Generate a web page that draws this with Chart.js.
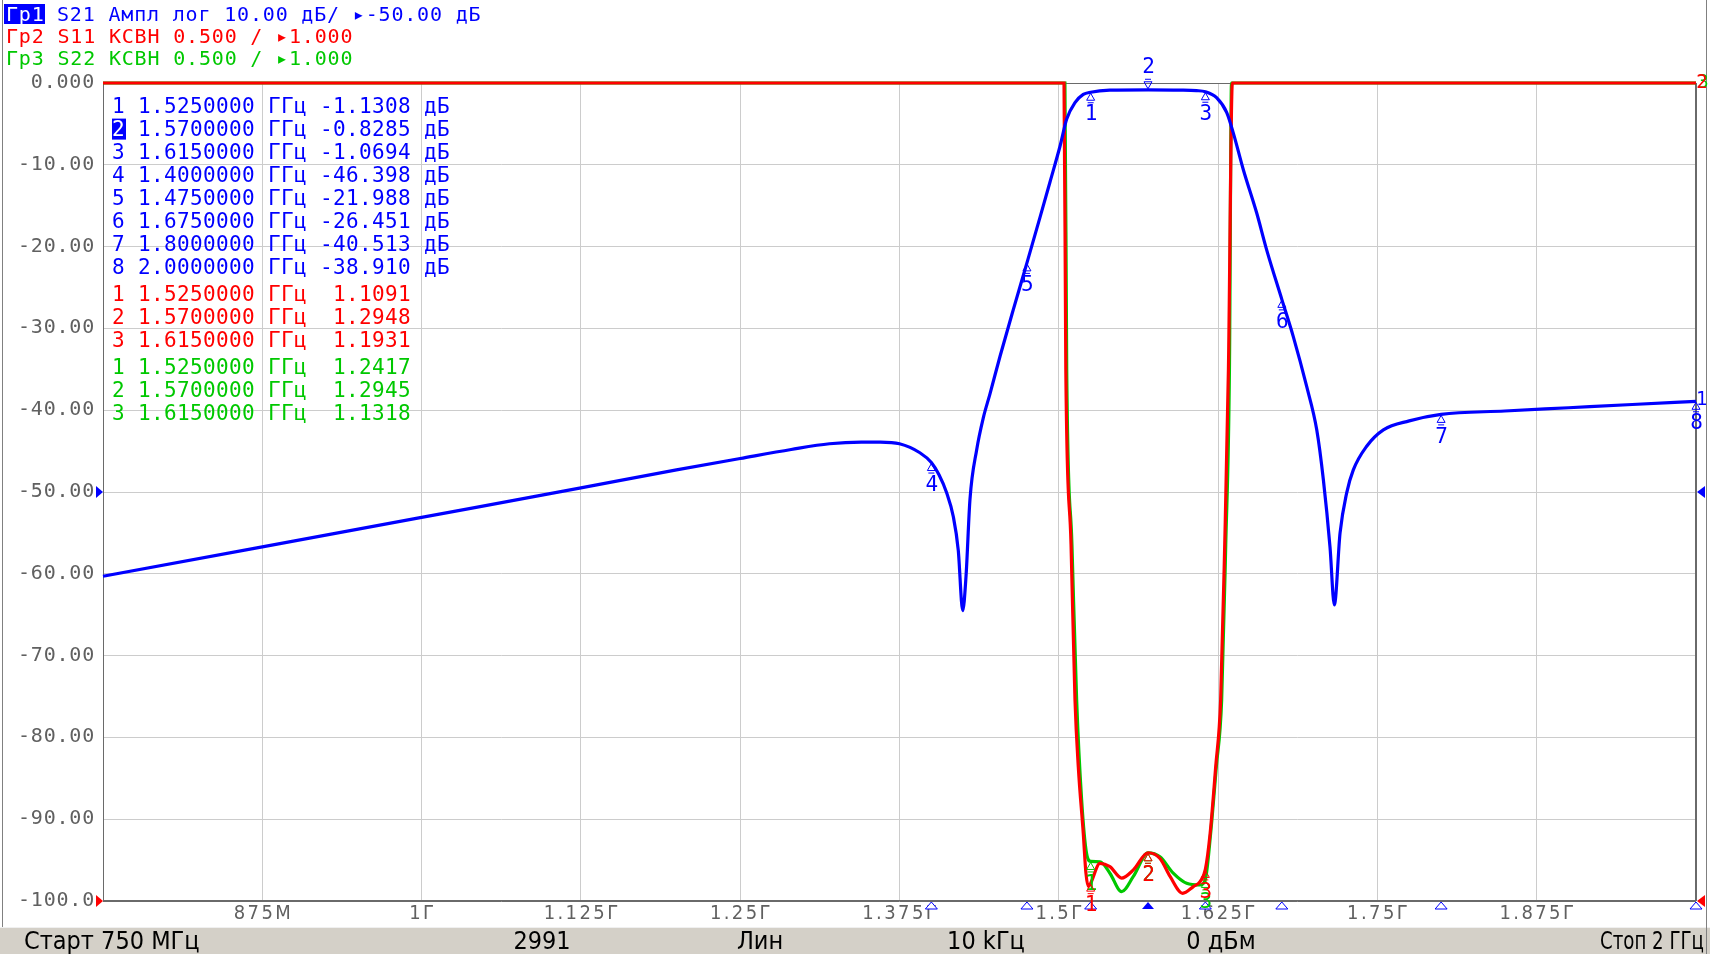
<!DOCTYPE html>
<html><head><meta charset="utf-8">
<script src="https://cdn.jsdelivr.net/npm/chart.js@4.4.1/dist/chart.umd.min.js"></script>
<style>html,body{margin:0;padding:0;background:#fff;overflow:hidden}canvas{display:block}</style>
</head><body>
<canvas id="c" width="1710" height="954"></canvas>
<script>
// ---------- DATA ----------
const s21Freq = [0.75,0.875,1.0,1.125,1.2,1.25,1.29,1.32,1.345,1.36,1.375,1.391,1.4,1.406,1.412,1.4172,1.4211,1.4246,1.4272,1.4303,1.4356,1.4408,1.446,1.4539,1.4643,1.475,1.4853,1.4931,1.501,1.5062,1.5127,1.5192,1.525,1.54,1.57,1.595,1.608,1.615,1.6238,1.6317,1.6369,1.6448,1.6553,1.6631,1.675,1.684,1.6945,1.7024,1.7076,1.7128,1.7162,1.7207,1.7259,1.7311,1.7416,1.7547,1.775,1.8,1.85,1.9,1.95,2.0];
const s21Db = [-60.3,-56.7,-53.1,-49.5,-47.3,-45.9,-44.8,-44.1,-43.9,-43.9,-44.1,-45.2,-46.4,-47.9,-50.1,-53.0,-57.1,-64.5,-60.3,-50.9,-44.8,-40.9,-38.0,-33.4,-27.7,-21.99,-16.4,-12.1,-7.7,-4.4,-2.4,-1.4,-1.13,-0.88,-0.83,-0.86,-0.93,-1.07,-1.8,-3.6,-6.1,-10.6,-15.9,-20.4,-26.45,-31.0,-37.1,-42.4,-48.5,-56.7,-63.8,-55.0,-50.1,-47.3,-44.4,-42.4,-41.3,-40.51,-40.1,-39.7,-39.3,-38.91];

const s11Freq = [0.75,1.5041,1.5055,1.5096,1.5127,1.5153,1.5192,1.5213,1.5232,1.525,1.5323,1.5401,1.5493,1.5585,1.57,1.5794,1.5873,1.5972,1.6056,1.611,1.615,1.6187,1.6231,1.627,1.6302,1.6331,1.6362,2.0];
const s11Vswr = [6,6,4.25,3.18,2.23,1.82,1.414,1.17,1.088,1.1091,1.23,1.21,1.14,1.19,1.2948,1.26,1.15,1.047,1.088,1.12,1.1931,1.41,1.82,2.23,3.18,4.25,6,6];

const s22Freq = [0.75,1.5048,1.5062,1.5103,1.514,1.5179,1.5218,1.525,1.5323,1.5401,1.5493,1.5585,1.57,1.5794,1.5898,1.6003,1.6108,1.615,1.6191,1.6236,1.6278,1.631,1.6339,1.6355,2.0];
const s22Vswr = [6,6,4.25,3.18,2.23,1.62,1.29,1.2417,1.24,1.17,1.057,1.15,1.2945,1.27,1.17,1.108,1.098,1.1318,1.41,1.82,2.23,3.18,4.25,6,6];

const xTickValues = [0.875,1.0,1.125,1.25,1.375,1.5,1.625,1.75,1.875];
const xTickLabels = ['875M','1Г','1.125Г','1.25Г','1.375Г','1.5Г','1.625Г','1.75Г','1.875Г'];
const yTickValues = [0,-10,-20,-30,-40,-50,-60,-70,-80,-90,-100];
const yTickLabels = ['0.000','-10.00','-20.00','-30.00','-40.00','-50.00','-60.00','-70.00','-80.00','-90.00','-100.0'];

const s21MarkerNum = [1,2,3,4,5,6,7,8];
const s21MarkerFreq = [1.525,1.57,1.615,1.4,1.475,1.675,1.8,2.0];
const s21MarkerDb = [-1.1308,-0.8285,-1.0694,-46.398,-21.988,-26.451,-40.513,-38.910];
const vswrMarkerNum = [1,2,3];
const vswrMarkerFreq = [1.525,1.57,1.615];
const s11MarkerVswr = [1.1091,1.2948,1.1931];
const s22MarkerVswr = [1.2417,1.2945,1.1318];

const header1Tag = 'Гр1';
const header1Text = 'S21 Ампл лог 10.00 дБ/ ▸-50.00 дБ';
const header2Text = 'Гр2 S11 КСВН 0.500 / ▸1.000';
const header3Text = 'Гр3 S22 КСВН 0.500 / ▸1.000';
const statusTexts = ['Старт 750 МГц','2991','Лин','10 kГц','0 дБм','Стоп 2 ГГц'];

// ---------- STYLE ----------
const BLUE = '#0000ff', RED = '#ff0000', GREEN = '#00c800', GRAYTXT = '#606060';
const MONO = '"DejaVu Sans Mono", monospace';
const NARROW = '"Liberation Sans Narrow", "DejaVu Sans Condensed", "Roboto Condensed", sans-serif';

// y is the visual centre of cap/digit height
function txt(ctx, s, x, y, color, size, family, align, ls) {
  ctx.save();
  ctx.font = size + 'px ' + family; ctx.fillStyle = color; ctx.textAlign = align || 'left';
  ctx.textBaseline = 'alphabetic';
  if ('letterSpacing' in ctx) ctx.letterSpacing = ls || '0px';
  ctx.fillText(s, x, y + size * 0.365);
  ctx.restore();
}
function fmtDb(v) { return (Math.abs(v) < 10 ? v.toFixed(4) : v.toFixed(3)).padStart(7, ' '); }

const decor = {
  id: 'decor',
  beforeDraw(chart) {
    const ctx = chart.ctx;
    ctx.save();
    ctx.fillStyle = '#ffffff';
    ctx.fillRect(0, 0, chart.width, chart.height);
    ctx.fillStyle = '#d4d0c8';
    ctx.fillRect(0, 927, chart.width, 27);
    ctx.fillStyle = '#f0f0f0';
    ctx.fillRect(0, 927, chart.width, 1);
    ctx.fillStyle = '#808080';
    ctx.fillRect(2, 0, 1, 927);
    ctx.fillRect(1706, 0, 1, 954);
    ctx.restore();
  },
  beforeDatasetsDraw(chart) {
    const ctx = chart.ctx, a = chart.chartArea;
    ctx.save();
    ctx.strokeStyle = '#6a6a6a'; ctx.lineWidth = 1;
    ctx.strokeRect(Math.round(a.left) + 0.5, Math.round(a.top) + 0.5, Math.round(a.right - a.left) - 1, Math.round(a.bottom - a.top) - 1);
    ctx.restore();
  },
  afterDraw(chart) {
    const ctx = chart.ctx;
    const xs = chart.scales.x, ys = chart.scales.y, y2 = chart.scales.y2;
    // header
    ctx.save(); ctx.fillStyle = BLUE; ctx.fillRect(4, 4, 41, 20); ctx.restore();
    const hls = '0.82px';
    txt(ctx, header1Tag, 6, 14, '#ffffff', 20, MONO, 'left', hls);
    txt(ctx, header1Text, 57, 14, BLUE, 20, MONO, 'left', hls);
    txt(ctx, header2Text, 6, 35.5, RED, 20, MONO, 'left', hls);
    txt(ctx, header3Text, 6, 57.5, GREEN, 20, MONO, 'left', hls);

    // y tick labels
    yTickValues.forEach((v, i) => {
      txt(ctx, yTickLabels[i], 95, ys.getPixelForValue(v) - 2.3, GRAYTXT, 20, MONO, 'right', '0.8px');
    });
    // x tick labels
    xTickValues.forEach((v, i) => {
      txt(ctx, xTickLabels[i], xs.getPixelForValue(v) + 1.2, 912, GRAYTXT, 20, NARROW, 'center', '2.4px');
    });

    const tri = (pts, color, fill) => {
      ctx.save(); ctx.beginPath();
      ctx.moveTo(pts[0], pts[1]); ctx.lineTo(pts[2], pts[3]); ctx.lineTo(pts[4], pts[5]); ctx.closePath();
      if (fill) { ctx.fillStyle = color; ctx.fill(); } else { ctx.fillStyle = '#fff'; ctx.fill(); ctx.strokeStyle = color; ctx.lineWidth = 1; ctx.stroke(); }
      ctx.restore();
    };
    const y50 = ys.getPixelForValue(-50), y100 = ys.getPixelForValue(-100);
    tri([96, y50 - 6, 103, y50, 96, y50 + 6], BLUE, true);
    tri([96, y100 - 6, 103, y100, 96, y100 + 6], RED, true);
    tri([1705, y50 - 6, 1697, y50, 1705, y50 + 6], BLUE, true);
    tri([1705, y100 - 6, 1697, y100, 1705, y100 + 6], RED, true);

    s21MarkerFreq.forEach((f, i) => {
      const px = xs.getPixelForValue(f);
      tri([px, 902, px - 6, 909, px + 6, 909], BLUE, i === 1);
    });

    const markBelow = (px, py, color, label) => {
      ctx.save();
      ctx.strokeStyle = color; ctx.lineWidth = 1;
      ctx.beginPath(); ctx.moveTo(px, py + 1); ctx.lineTo(px - 4, py + 8); ctx.lineTo(px + 4, py + 8); ctx.closePath(); ctx.stroke();
      ctx.beginPath(); ctx.moveTo(px - 3, py + 10.5); ctx.lineTo(px + 3, py + 10.5); ctx.stroke();
      ctx.restore();
      txt(ctx, label, px + 0.5, py + 20.5, color, 21, MONO, 'center');
    };
    const markAbove = (px, py, color, label) => {
      ctx.save();
      ctx.strokeStyle = color; ctx.lineWidth = 1;
      ctx.beginPath(); ctx.moveTo(px, py - 1); ctx.lineTo(px - 4, py - 8); ctx.lineTo(px + 4, py - 8); ctx.closePath(); ctx.stroke();
      ctx.beginPath(); ctx.moveTo(px - 3, py - 10.5); ctx.lineTo(px + 3, py - 10.5); ctx.stroke();
      ctx.restore();
      txt(ctx, label, px + 0.5, py - 24, color, 21, MONO, 'center');
    };
    vswrMarkerFreq.forEach((f, i) => {
      markBelow(xs.getPixelForValue(f), y2.getPixelForValue(s22MarkerVswr[i]), GREEN, String(vswrMarkerNum[i]));
    });
    vswrMarkerFreq.forEach((f, i) => {
      markBelow(xs.getPixelForValue(f), y2.getPixelForValue(s11MarkerVswr[i]), RED, String(vswrMarkerNum[i]));
    });
    s21MarkerFreq.forEach((f, i) => {
      const px = xs.getPixelForValue(f), py = ys.getPixelForValue(s21MarkerDb[i]);
      if (i === 1) markAbove(px, py, BLUE, String(s21MarkerNum[i]));
      else markBelow(px, py, BLUE, String(s21MarkerNum[i]));
    });
    // trace id labels at right edge
    txt(ctx, '3', 1703, y2.getPixelForValue(6) - 2.5, GREEN, 20, NARROW, 'center');
    txt(ctx, '2', 1702, y2.getPixelForValue(6) - 2.5, RED, 20, NARROW, 'center');
    txt(ctx, '1', 1702, ys.getPixelForValue(s21Db[s21Db.length - 1]) - 4, BLUE, 20, NARROW, 'center');

    // marker table
    const tls = '0.36px', tx = 112;
    s21MarkerFreq.forEach((f, i) => {
      const row = String(s21MarkerNum[i]) + ' ' + f.toFixed(7) + ' ГГц ' + fmtDb(s21MarkerDb[i]) + ' дБ';
      const y = 105 + i * 23.1;
      if (i === 1) {
        ctx.save(); ctx.fillStyle = BLUE; ctx.fillRect(112, y - 9.5, 14, 21); ctx.restore();
        txt(ctx, row.slice(0, 1), tx, y, '#ffffff', 21, MONO, 'left', tls);
        txt(ctx, ' ' + row.slice(1), tx, y, BLUE, 21, MONO, 'left', tls);
      } else {
        txt(ctx, row, tx, y, BLUE, 21, MONO, 'left', tls);
      }
    });
    vswrMarkerFreq.forEach((f, i) => {
      const row = String(vswrMarkerNum[i]) + ' ' + f.toFixed(7) + ' ГГц ' + s11MarkerVswr[i].toFixed(4).padStart(7, ' ');
      txt(ctx, row, tx, 293.3 + i * 23, RED, 21, MONO, 'left', tls);
    });
    vswrMarkerFreq.forEach((f, i) => {
      const row = String(vswrMarkerNum[i]) + ' ' + f.toFixed(7) + ' ГГц ' + s22MarkerVswr[i].toFixed(4).padStart(7, ' ');
      txt(ctx, row, tx, 366.5 + i * 23, GREEN, 21, MONO, 'left', tls);
    });

    // status bar
    txt(ctx, statusTexts[0], 24, 940, '#000', 25, NARROW, 'left');
    txt(ctx, statusTexts[1], 542, 940, '#000', 25, NARROW, 'center');
    txt(ctx, statusTexts[2], 760, 940, '#000', 25, NARROW, 'center');
    txt(ctx, statusTexts[3], 986, 940, '#000', 25, NARROW, 'center');
    txt(ctx, statusTexts[4], 1221, 940, '#000', 25, NARROW, 'center');
    ctx.save(); ctx.font = '25px ' + NARROW; const w5 = ctx.measureText(statusTexts[5]).width; ctx.restore();
    ctx.save(); ctx.font = '25px ' + NARROW; ctx.fillStyle = '#000'; ctx.textAlign = 'right'; ctx.textBaseline = 'alphabetic';
    ctx.fillText(statusTexts[5], 1704, 940 + 25 * 0.365, Math.min(w5, 104)); ctx.restore();
  }
};

const gridColor = (edgeA, edgeB) => (c) => {
  const v = c.tick ? c.tick.value : null;
  return (v === edgeA || v === edgeB) ? '#6a6a6a' : '#cccccc';
};

const toPts = (xs, ys) => xs.map((x, i) => ({ x: x, y: ys[i] }));
const lineClip = { left: 2, right: 2, top: 3, bottom: 3 };

new Chart(document.getElementById('c').getContext('2d'), {
  type: 'line',
  data: {
    datasets: [
      { label: 'S21', data: toPts(s21Freq, s21Db), yAxisID: 'y', borderColor: BLUE, borderWidth: 3.2, pointRadius: 0, cubicInterpolationMode: 'monotone', fill: false, clip: lineClip },
      { label: 'S11', data: toPts(s11Freq, s11Vswr), yAxisID: 'y2', borderColor: RED, borderWidth: 3.2, pointRadius: 0, cubicInterpolationMode: 'monotone', fill: false, clip: lineClip },
      { label: 'S22', data: toPts(s22Freq, s22Vswr), yAxisID: 'y2', borderColor: GREEN, borderWidth: 3.2, pointRadius: 0, cubicInterpolationMode: 'monotone', fill: false, clip: lineClip }
    ]
  },
  options: {
    responsive: false,
    animation: false,
    devicePixelRatio: 1,
    layout: { padding: { left: 103, right: 14, top: 83, bottom: 53 } },
    plugins: { legend: { display: false }, tooltip: { enabled: false }, title: { display: false } },
    scales: {
      x: { type: 'linear', min: 0.75, max: 2.0,
           ticks: { display: false, stepSize: 0.125 },
           grid: { color: gridColor(0.75, 2.0), drawTicks: false, lineWidth: 1 },
           border: { display: false } },
      y: { type: 'linear', min: -100, max: 0,
           ticks: { display: false, stepSize: 10 },
           grid: { color: gridColor(0, -100), drawTicks: false, lineWidth: 1 },
           border: { display: false } },
      y2: { type: 'linear', min: 1, max: 6, display: false }
    }
  },
  plugins: [decor]
});
</script>
</body></html>
